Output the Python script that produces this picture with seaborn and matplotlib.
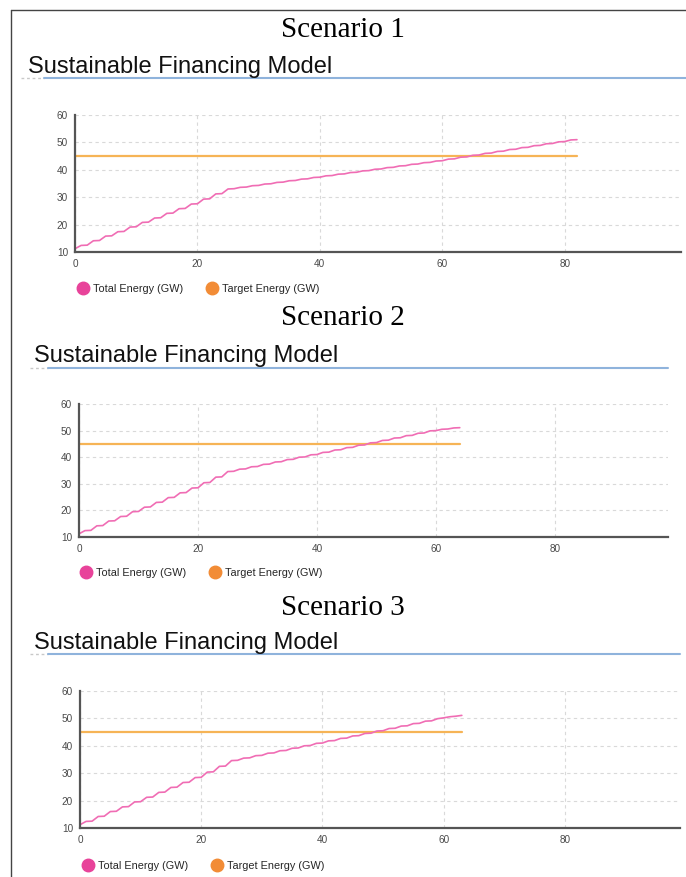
import numpy as np
import pandas as pd
import seaborn as sns
import matplotlib
matplotlib.use("Agg")
import matplotlib.pyplot as plt
from matplotlib.lines import Line2D

# values (one value per x step)
total_s1 = [11.2, 12.4, 12.5, 14.1, 14.2, 15.8, 15.9, 17.4, 17.5, 19.1,
            19.2, 20.8, 20.9, 22.4, 22.5, 24.1, 24.2, 25.8, 25.9, 27.5,
            27.6, 29.3, 29.4, 31.2, 31.3, 33.0, 33.1, 33.6, 33.7, 34.2,
            34.3, 34.8, 34.9, 35.4, 35.5, 36.0, 36.1, 36.6, 36.7, 37.2,
            37.3, 37.8, 37.9, 38.4, 38.5, 39.0, 39.1, 39.6, 39.7, 40.2,
            40.3, 40.8, 40.9, 41.4, 41.5, 42.0, 42.1, 42.6, 42.7, 43.2,
            43.3, 43.9, 44.0, 44.6, 44.7, 45.3, 45.4, 46.0, 46.1, 46.7,
            46.8, 47.4, 47.5, 48.1, 48.2, 48.8, 48.9, 49.5, 49.6, 50.2,
            50.3, 50.9, 51.0]
total_s2 = [11.2, 12.4, 12.5, 14.2, 14.3, 16.0, 16.1, 17.7, 17.8, 19.5,
            19.6, 21.2, 21.3, 23.0, 23.1, 24.8, 24.9, 26.6, 26.7, 28.4,
            28.5, 30.4, 30.5, 32.5, 32.6, 34.6, 34.7, 35.5, 35.6, 36.4,
            36.5, 37.3, 37.4, 38.2, 38.3, 39.1, 39.2, 40.0, 40.1, 40.9,
            41.0, 41.8, 41.9, 42.7, 42.8, 43.6, 43.7, 44.5, 44.6, 45.4,
            45.5, 46.3, 46.4, 47.2, 47.3, 48.1, 48.2, 49.0, 49.1, 49.9,
            50.0, 50.5, 50.6, 51.0, 51.1]
total_s3 = [11.2, 12.4, 12.5, 14.2, 14.3, 16.0, 16.1, 17.7, 17.8, 19.5,
            19.6, 21.2, 21.3, 23.0, 23.1, 24.8, 24.9, 26.6, 26.7, 28.4,
            28.5, 30.4, 30.5, 32.5, 32.6, 34.6, 34.7, 35.5, 35.6, 36.4,
            36.5, 37.3, 37.4, 38.2, 38.3, 39.1, 39.2, 40.0, 40.1, 40.9,
            41.0, 41.8, 41.9, 42.7, 42.8, 43.6, 43.7, 44.5, 44.6, 45.4,
            45.5, 46.3, 46.4, 47.2, 47.3, 48.1, 48.2, 49.0, 49.1, 49.9,
            50.2, 50.6, 50.8, 51.1]
target_gw = 45
scenarios = ["Scenario 1", "Scenario 2", "Scenario 3"]
chart_title = "Sustainable Financing Model"
label_total = "Total Energy (GW)"
label_target = "Target Energy (GW)"
x_ticks = [0, 20, 40, 60, 80]
y_ticks = [10, 20, 30, 40, 50, 60]

c_total = "#f06db4"
c_target = "#f6b456"
c_total_dot = "#e8439a"
c_target_dot = "#f28c36"

W, H = 686, 877

def box(left, top, right, bottom):
    return [left / W, 1 - bottom / H, (right - left) / W, (bottom - top) / H]

# pixel layout of each panel: axes box, heading y, title pos, underline, legend
panels = [
    dict(ax=(75, 115, 681, 252), head_y=30, title=(28, 67), rule=(21, 44, 686, 78), leg=(79, 289)),
    dict(ax=(79, 404, 668, 537), head_y=318, title=(34, 356), rule=(30, 48, 668, 368), leg=(82, 573)),
    dict(ax=(80, 691, 680, 828), head_y=608, title=(34, 643), rule=(30, 48, 680, 654), leg=(84, 866)),
]

sns.set_theme(style="white")
plt.rcParams['font.family'] = ['Liberation Sans', 'DejaVu Sans']

fig = plt.figure(figsize=(W / 100, H / 100), dpi=100)

# outer frame of the composite screenshot
fig.add_artist(Line2D([11 / W, 1], [1 - 10 / H] * 2, color="#444444", lw=1.0))
fig.add_artist(Line2D([11 / W] * 2, [0, 1 - 10 / H], color="#444444", lw=1.0))

for name, totals, p in zip(scenarios, [total_s1, total_s2, total_s3], panels):
    n = len(totals)
    df = pd.DataFrame({"x": list(range(n)), "y": totals})
    tg = pd.DataFrame({"x": [0, n - 1], "y": [target_gw, target_gw]})

    ax = fig.add_axes(box(*p["ax"]))
    sns.lineplot(data=tg, x="x", y="y", ax=ax, color=c_target, lw=1.6)
    sns.lineplot(data=df, x="x", y="y", ax=ax, color=c_total, lw=1.2)
    ax.set_xlim(0, 99)
    ax.set_ylim(10, 60)
    ax.set_xticks(x_ticks)
    ax.set_yticks(y_ticks)
    ax.set_xlabel("")
    ax.set_ylabel("")
    ax.tick_params(labelsize=7.2, colors="#4a4a4a", length=0, pad=5)
    ax.grid(True, color="#d9d9d9", ls=(0, (3, 3)), lw=0.8)
    for s in ["top", "right"]:
        ax.spines[s].set_visible(False)
    for s in ["left", "bottom"]:
        ax.spines[s].set_color("#555555")
        ax.spines[s].set_linewidth(1.6)

    fig.text(343 / W, 1 - p["head_y"] / H, name, family="Liberation Serif",
             fontsize=21, ha="center", va="center", color="black")
    tx, ty = p["title"]
    fig.text(tx / W, 1 - ty / H, chart_title, fontsize=17, ha="left", va="center", color="#111111")
    x0, x1, x2, ry = p["rule"]
    fig.add_artist(Line2D([x0 / W, x1 / W], [1 - ry / H] * 2, color="#c8c8c8", lw=1.0, ls=(0, (2, 2))))
    fig.add_artist(Line2D([x1 / W, x2 / W], [1 - ry / H] * 2, color="#8fb3dc", lw=1.5))

    lx, ly = p["leg"]
    handles = [Line2D([], [], ls="", marker="o", ms=9, color=c_total_dot),
               Line2D([], [], ls="", marker="o", ms=9, color=c_target_dot)]
    ax.legend(handles, [label_total, label_target], loc="center left",
              bbox_to_anchor=(lx / W, 1 - ly / H), bbox_transform=fig.transFigure,
              ncol=2, frameon=False, fontsize=7.8, handlelength=0.8,
              handletextpad=0.5, columnspacing=2.3, borderpad=0, borderaxespad=0)

fig.savefig("out.png", dpi=100)
